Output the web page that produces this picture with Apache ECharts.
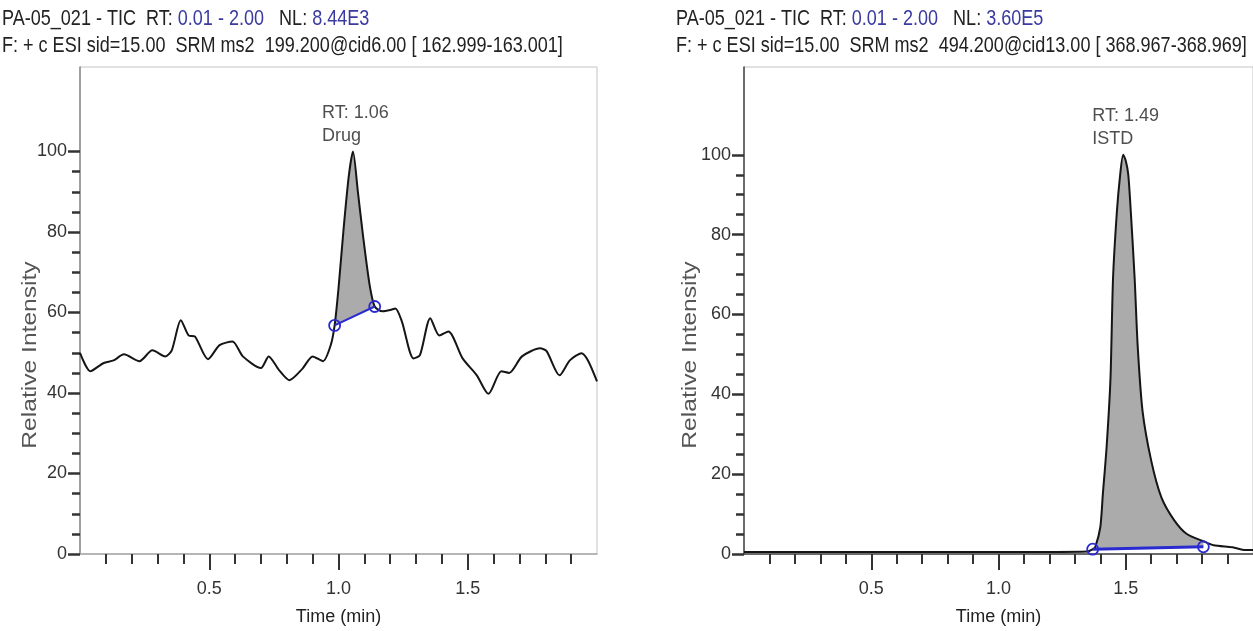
<!DOCTYPE html>
<html>
<head>
<meta charset="utf-8">
<script src="https://cdn.jsdelivr.net/npm/echarts@6/dist/echarts.min.js"></script>
<style>html,body{margin:0;padding:0;background:#fff}#c{width:1253px;height:631px}</style>
</head>
<body>
<div id="c"></div>
<script>
// ---- Data ----
const drugTime = [0, 0.04, 0.09, 0.13, 0.17, 0.23, 0.28, 0.33, 0.355, 0.39, 0.42, 0.445, 0.495, 0.54, 0.59, 0.63, 0.70, 0.73, 0.77, 0.81, 0.86, 0.90, 0.94, 0.97, 0.985, 1.00, 1.02, 1.04, 1.056, 1.075, 1.095, 1.12, 1.14, 1.17, 1.20, 1.22, 1.245, 1.29, 1.315, 1.355, 1.39, 1.425, 1.48, 1.535, 1.58, 1.63, 1.66, 1.71, 1.78, 1.805, 1.855, 1.895, 1.94, 1.965, 2.0];
const drugIntensity = [50, 45.4, 47.4, 48.1, 49.6, 47.9, 50.6, 49.1, 50.6, 58.1, 54.3, 54, 48.4, 51.9, 52.8, 49.1, 46.2, 49.1, 45.7, 43.2, 46, 49.1, 47.9, 51.9, 56.8, 66, 81, 94, 100, 90, 79, 67, 61.5, 60.3, 60.6, 61, 57.8, 48.6, 49.4, 58.6, 54.3, 55.3, 48.6, 44.4, 39.8, 45.4, 45, 49.1, 51.1, 50.4, 44.4, 48.1, 49.9, 48.1, 42.9];
const drugBaseTime = [0.985, 1.14];
const drugBaseIntensity = [56.8, 61.5];

const istdTime = [0, 0.3, 0.6, 0.9, 1.2, 1.35, 1.37, 1.38, 1.40, 1.41, 1.425, 1.44, 1.45, 1.465, 1.478, 1.49, 1.50, 1.51, 1.52, 1.535, 1.547, 1.566, 1.60, 1.64, 1.69, 1.74, 1.805, 1.845, 1.92, 1.97, 2.0];
const istdIntensity = [0.5, 0.5, 0.5, 0.5, 0.5, 0.6, 1.2, 1.7, 6.7, 15, 27, 44, 69, 85.6, 95, 100, 98.5, 95, 85.6, 69, 52, 35.8, 23.4, 14.2, 8.5, 5, 3.2, 2.2, 1.7, 1, 1];
const istdBaseTime = [1.37, 1.805];
const istdBaseIntensity = [1.2, 1.8];

const peakTimes = [1.056, 1.49];
const peakIntensities = [100, 100];
const peakLabels = ['RT: 1.06\nDrug', 'RT: 1.49\nISTD'];

const xMajorTicks = [0.5, 1.0, 1.5];
const xMinorTicks = [0.1, 0.2, 0.3, 0.4, 0.6, 0.7, 0.8, 0.9, 1.1, 1.2, 1.3, 1.4, 1.6, 1.7, 1.8, 1.9];
const yMajorTicks = [0, 20, 40, 60, 80, 100];
const yMinorTicks = [5, 10, 15, 25, 30, 35, 45, 50, 55, 65, 70, 75, 85, 90, 95];

const headerLine1 = [
  ['PA-05_021 - TIC  RT: ', '0.01 - 2.00', '   NL: ', '8.44E3'],
  ['PA-05_021 - TIC  RT: ', '0.01 - 2.00', '   NL: ', '3.60E5']
];
const headerLine2 = [
  'F: + c ESI sid=15.00  SRM ms2  199.200@cid6.00 [ 162.999-163.001]',
  'F: + c ESI sid=15.00  SRM ms2  494.200@cid13.00 [ 368.967-368.969]'
];

// ---- Chart ----
const FONT = "'Liberation Sans', Arial, sans-serif";
const zip = (a, b) => a.map((v, i) => [v, b[i]]);

function areaPoints(t, v, bt, bv) {
  const pts = [];
  for (let i = 0; i < t.length; i++) {
    if (t[i] >= bt[0] - 1e-9 && t[i] <= bt[1] + 1e-9) pts.push([t[i], v[i]]);
  }
  pts.push([bt[1], bv[1]]);
  pts.push([bt[0], bv[0]]);
  return pts;
}

const grids = [
  { left: 80, right: 656, top: 67, bottom: 75, show: true, borderColor: '#c4c4c4', borderWidth: 1, backgroundColor: 'transparent' },
  { left: 744, right: -7, top: 67, bottom: 74, show: true, borderColor: '#c4c4c4', borderWidth: 1, backgroundColor: 'transparent' }
];
const yMax = [121, 122];
const xLineColor = ['#a8a8a8', '#444'];
const yLineColor = ['#8a8a8a', '#444'];

const xAxes = [], yAxes = [], series = [];
[0, 1].forEach(g => {
  xAxes.push({
    gridIndex: g, type: 'value', min: 0, max: 2, position: 'bottom',
    axisLine: { show: true, lineStyle: { color: xLineColor[g], width: 1.5 } },
    axisTick: { show: true, customValues: xMinorTicks, length: 10, lineStyle: { color: '#333', width: 2 } },
    axisLabel: { show: false }, splitLine: { show: false }
  });
  xAxes.push({
    gridIndex: g, type: 'value', min: 0, max: 2, position: 'bottom',
    axisLine: { show: false },
    axisTick: { show: true, customValues: xMajorTicks, length: 16, lineStyle: { color: '#333', width: 2 } },
    axisLabel: { show: true, customValues: xMajorTicks, formatter: v => v.toFixed(1), margin: 26, fontSize: 18, color: '#333', fontFamily: FONT },
    splitLine: { show: false },
    name: 'Time (min)', nameLocation: 'middle', nameGap: 54,
    nameTextStyle: { fontSize: 18, color: '#222', fontFamily: FONT }
  });
  yAxes.push({
    gridIndex: g, type: 'value', min: 0, max: yMax[g], position: 'left',
    axisLine: { show: true, lineStyle: { color: yLineColor[g], width: 1.5 } },
    axisTick: { show: true, customValues: yMajorTicks, length: 12, lineStyle: { color: '#333', width: 2.5 } },
    axisLabel: { show: true, customValues: yMajorTicks, margin: 13, fontSize: 18, color: '#333', fontFamily: FONT },
    splitLine: { show: false }
  });
  yAxes.push({
    gridIndex: g, type: 'value', min: 0, max: yMax[g], position: 'left', offset: 0,
    axisLine: { show: false },
    axisTick: { show: true, customValues: yMinorTicks, length: 8, lineStyle: { color: '#333', width: 2.5 } },
    axisLabel: { show: false }, splitLine: { show: false }
  });
});

const traces = [
  { t: drugTime, v: drugIntensity, bt: drugBaseTime, bv: drugBaseIntensity },
  { t: istdTime, v: istdIntensity, bt: istdBaseTime, bv: istdBaseIntensity }
];
traces.forEach((tr, g) => {
  const xi = g * 2, yi = g * 2;
  const poly = areaPoints(tr.t, tr.v, tr.bt, tr.bv);
  series.push({
    type: 'custom', xAxisIndex: xi, yAxisIndex: yi, z: 1, silent: true,
    data: poly,
    renderItem: (params, api) => {
      if (params.dataIndex !== 0) return null;
      return { type: 'polygon', shape: { points: poly.map(p => api.coord(p)) }, style: { fill: '#ababab' } };
    }
  });
  series.push({
    type: 'line', xAxisIndex: xi, yAxisIndex: yi, z: 3,
    data: zip(tr.t, tr.v), showSymbol: false, smooth: 0.25,
    lineStyle: { color: '#151515', width: 2 }
  });
  series.push({
    type: 'line', xAxisIndex: xi, yAxisIndex: yi, z: 4,
    data: zip(tr.bt, tr.bv), symbol: 'circle', symbolSize: 11, showSymbol: true,
    lineStyle: { color: '#2a2ad0', width: g === 0 ? 2 : 3 },
    itemStyle: { color: 'rgba(0,0,0,0)', borderColor: '#2a2ad0', borderWidth: 1.8 }
  });
  series.push({
    type: 'scatter', xAxisIndex: xi, yAxisIndex: yi, z: 5,
    data: [[peakTimes[g], peakIntensities[g]]], symbolSize: 0,
    label: {
      show: true, position: 'top', distance: 4, align: 'left', offset: [-31, 0],
      formatter: peakLabels[g], fontSize: 18, lineHeight: 23, color: '#222', fontFamily: FONT
    }
  });
});

const headerX = [2, 676];
const graphics = [];
[0, 1].forEach(g => {
  const p = headerLine1[g];
  graphics.push({
    type: 'text', x: headerX[g], y: 19, scaleX: 0.82, scaleY: 1,
    style: {
      text: '{a|' + p[0] + '}{b|' + p[1] + '}{a|' + p[2] + '}{b|' + p[3] + '}',
      verticalAlign: 'middle', align: 'left',
      rich: {
        a: { fontSize: 22, fill: '#222', fontFamily: FONT },
        b: { fontSize: 22, fill: '#3a3aa0', fontFamily: FONT }
      }
    }
  });
  graphics.push({
    type: 'text', x: headerX[g], y: 46, scaleX: 0.82, scaleY: 1,
    style: { text: headerLine2[g], fontSize: 22, fill: '#222', fontFamily: FONT, verticalAlign: 'middle', align: 'left' }
  });
});
[30, 690].forEach(x => graphics.push({
  type: 'text', x: x, y: 355, rotation: Math.PI / 2, scaleX: 1.23, scaleY: 1,
  style: { text: 'Relative Intensity', fontSize: 20, fill: '#555', fontFamily: FONT, align: 'center', verticalAlign: 'middle' }
}));

const chart = echarts.init(document.getElementById('c'), null, { renderer: 'canvas' });
chart.setOption({
  animation: false,
  backgroundColor: '#fff',
  textStyle: { fontFamily: FONT },
  grid: grids,
  xAxis: xAxes,
  yAxis: yAxes,
  series: series,
  graphic: graphics
});
</script>
</body>
</html>
